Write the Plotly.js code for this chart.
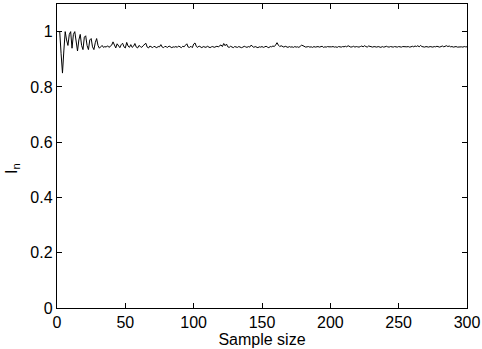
<!DOCTYPE html>
<html>
<head>
<meta charset="utf-8">
<script src="https://cdn.plot.ly/plotly-3.0.1.min.js"></script>
<style>html,body{margin:0;padding:0;background:#fff;}#chart{width:482px;height:349px;}</style>
</head>
<body>
<div id="chart"></div>
<script>
// Sample sizes and I_n values
const sampleSize = Array.from({length: 300}, (_, i) => i + 1);
const In = [
  1.0,1.0,0.92,0.85,0.93,1.0,0.97,0.95,0.99,1.0,
  0.94,0.99,1.0,0.96,0.93,0.97,0.99,0.95,0.935,0.98,
  0.985,0.95,0.935,0.97,0.975,0.945,0.935,0.96,0.975,0.95,
  0.94,0.945,0.95,0.943,0.946,0.944,0.949,0.943,0.946,0.951,
  0.963,0.95,0.941,0.956,0.947,0.942,0.953,0.958,0.945,0.941,
  0.961,0.948,0.943,0.953,0.943,0.947,0.957,0.944,0.941,0.95,
  0.946,0.943,0.949,0.955,0.958,0.944,0.941,0.948,0.945,0.942,
  0.947,0.944,0.942,0.946,0.945,0.953,0.944,0.942,0.947,0.945,
  0.943,0.948,0.944,0.942,0.945,0.944,0.946,0.943,0.948,0.944,
  0.942,0.947,0.945,0.951,0.956,0.944,0.943,0.947,0.942,0.955,
  0.959,0.946,0.943,0.948,0.944,0.942,0.946,0.945,0.943,0.947,
  0.944,0.942,0.945,0.946,0.943,0.944,0.947,0.945,0.948,0.952,
  0.946,0.957,0.949,0.955,0.945,0.943,0.947,0.944,0.942,0.946,
  0.944,0.943,0.946,0.945,0.942,0.944,0.947,0.945,0.943,0.946,
  0.944,0.951,0.945,0.943,0.946,0.944,0.942,0.945,0.944,0.946,
  0.943,0.945,0.947,0.944,0.942,0.946,0.945,0.948,0.946,0.952,
  0.96,0.951,0.946,0.949,0.945,0.944,0.947,0.945,0.943,0.946,
  0.944,0.945,0.943,0.946,0.944,0.945,0.943,0.947,0.951,0.949,
  0.946,0.944,0.945,0.946,0.944,0.945,0.943,0.946,0.944,0.945,
  0.946,0.944,0.945,0.947,0.943,0.945,0.944,0.946,0.945,0.944,
  0.945,0.946,0.944,0.945,0.943,0.946,0.945,0.944,0.946,0.945,
  0.947,0.945,0.949,0.946,0.944,0.945,0.947,0.944,0.946,0.945,
  0.944,0.946,0.948,0.945,0.949,0.946,0.944,0.948,0.946,0.945,
  0.944,0.946,0.945,0.944,0.946,0.945,0.943,0.946,0.944,0.945,
  0.947,0.945,0.944,0.946,0.945,0.944,0.946,0.945,0.944,0.946,
  0.945,0.944,0.946,0.945,0.944,0.945,0.946,0.944,0.945,0.947,
  0.945,0.948,0.946,0.949,0.945,0.950,0.946,0.945,0.944,0.946,
  0.945,0.944,0.946,0.945,0.944,0.946,0.945,0.947,0.945,0.944,
  0.946,0.948,0.945,0.947,0.949,0.946,0.948,0.945,0.946,0.944,
  0.945,0.946,0.944,0.945,0.946,0.945,0.944,0.946,0.945,0.945
];
const xTicks = [0, 50, 100, 150, 200, 250, 300];
const yTicks = [0, 0.2, 0.4, 0.6, 0.8, 1];

const font = {family: 'Liberation Sans, Arial, Helvetica, sans-serif', size: 16, color: '#000'};
const axisCommon = {
  showgrid: false, zeroline: false, showline: true, linecolor: '#000', linewidth: 1.2,
  mirror: 'ticks', ticks: 'inside', ticklen: 5, tickwidth: 1, tickcolor: '#000',
  tickfont: font, automargin: false
};

Plotly.newPlot('chart', [{
  x: sampleSize, y: In, type: 'scatter', mode: 'lines',
  line: {color: '#000', width: 1}, hoverinfo: 'skip'
}], {
  width: 482, height: 349,
  margin: {l: 57, r: 15, t: 4, b: 41},
  paper_bgcolor: '#fff', plot_bgcolor: '#fff',
  showlegend: false, font: font,
  xaxis: Object.assign({}, axisCommon, {
    range: [0, 300], tickmode: 'array', tickvals: xTicks,
    title: {text: 'Sample size', font: font, standoff: 0}
  }),
  yaxis: Object.assign({}, axisCommon, {
    range: [0, 1.1], tickmode: 'array', tickvals: yTicks
  }),
  annotations: [{
    text: 'I<sub>n</sub>', xref: 'paper', yref: 'paper',
    x: -0.11, y: 0.46, xanchor: 'center', yanchor: 'middle',
    textangle: -90, showarrow: false, font: font
  }]
}, {staticPlot: true, displayModeBar: false});
</script>
</body>
</html>
